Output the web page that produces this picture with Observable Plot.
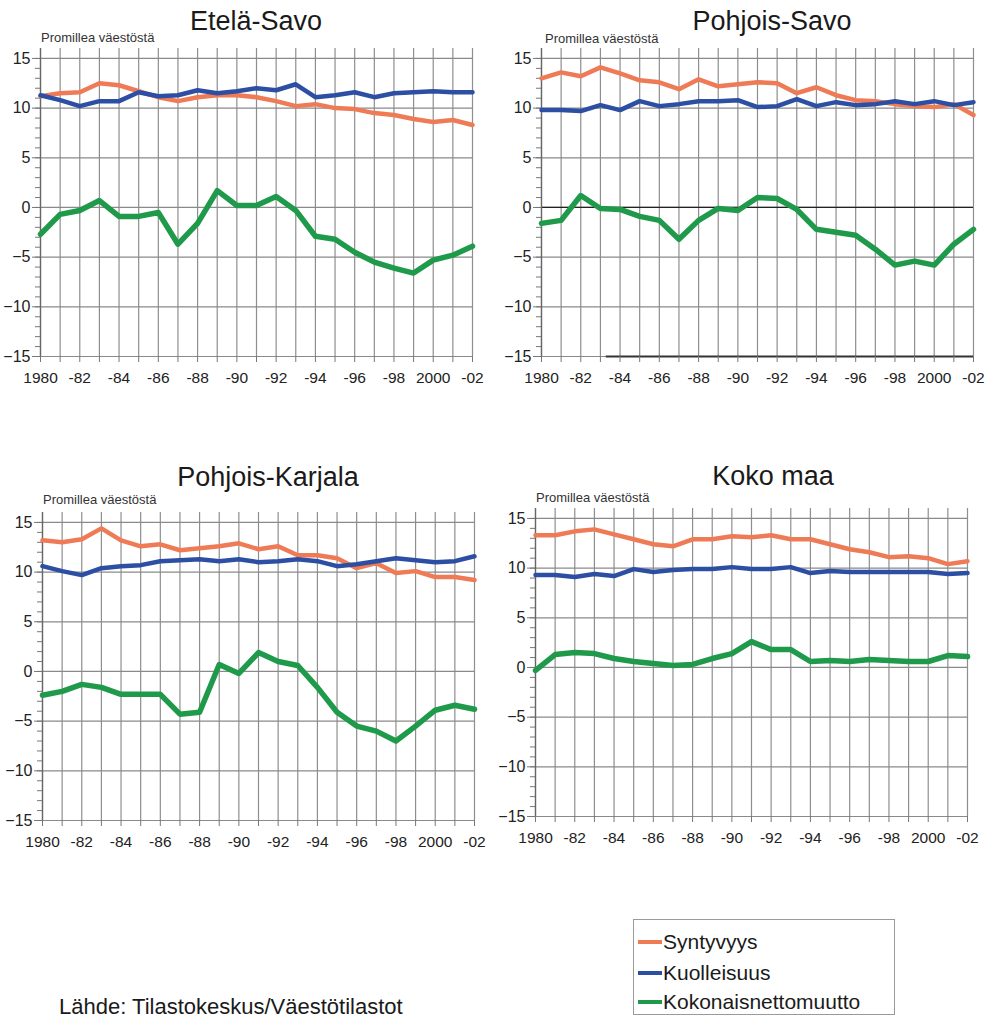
<!DOCTYPE html>
<html>
<head>
<meta charset="utf-8">
<script src="https://cdn.jsdelivr.net/npm/d3@7"></script>
<script src="https://cdn.jsdelivr.net/npm/@observablehq/plot@0.6"></script>
<style>
  html, body { margin: 0; padding: 0; background: #fff; }
  #wrap { position: relative; width: 995px; height: 1018px; overflow: hidden; font-family: "Liberation Sans", Arial, sans-serif; color: #1a1a1a; }
  .abs { position: absolute; white-space: nowrap; line-height: 1; }
  .title { transform: translateX(-50%); }
  .sub { color: #333; }
  .panel { position: absolute; }
  #legend { position: absolute; left: 633px; top: 919px; width: 262px; height: 96px; border: 1px solid #9a9a9a; box-sizing: border-box; }
  .lg { position: absolute; left: 4px; font-size: 21px; display: flex; align-items: center; }
  .sw { display: inline-block; width: 24px; height: 4px; margin-right: 1px; }
</style>
</head>
<body>
<div id="wrap"></div>
<script>
// ---- data ----
const years = [1980,1981,1982,1983,1984,1985,1986,1987,1988,1989,1990,1991,1992,1993,1994,1995,1996,1997,1998,1999,2000,2001,2002];
const xTickYears  = [1980,1982,1984,1986,1988,1990,1992,1994,1996,1998,2000,2002];
const xTickLabels = ["1980","-82","-84","-86","-88","-90","-92","-94","-96","-98","2000","-02"];
const yTicks = [-15,-10,-5,0,5,10,15];
const seriesNames = ["Syntyvyys","Kuolleisuus","Kokonaisnettomuutto"];
const seriesColors = ["#ef7b56","#2c4fa3","#1f9a4b"];
const panelTitles = ["Etelä-Savo","Pohjois-Savo","Pohjois-Karjala","Koko maa"];
const yLabel = "Promillea väestöstä";
const sourceText = "Lähde: Tilastokeskus/Väestötilastot";

const etelaSavoSyntyvyys   = [11.2,11.5,11.6,12.5,12.3,11.7,11.1,10.7,11.1,11.3,11.3,11.1,10.7,10.2,10.4,10.0,9.9,9.5,9.3,8.9,8.6,8.8,8.3];
const etelaSavoKuolleisuus = [11.3,10.8,10.2,10.7,10.7,11.6,11.2,11.3,11.8,11.5,11.7,12.0,11.8,12.4,11.1,11.3,11.6,11.1,11.5,11.6,11.7,11.6,11.6];
const etelaSavoNettomuutto = [-2.7,-0.7,-0.3,0.7,-0.9,-0.9,-0.5,-3.7,-1.6,1.7,0.2,0.2,1.1,-0.3,-2.9,-3.2,-4.5,-5.5,-6.1,-6.6,-5.3,-4.8,-3.9];

const pohjoisSavoSyntyvyys   = [13.0,13.6,13.2,14.1,13.5,12.8,12.6,11.9,12.9,12.2,12.4,12.6,12.5,11.5,12.1,11.3,10.8,10.7,10.4,10.2,10.1,10.4,9.3];
const pohjoisSavoKuolleisuus = [9.8,9.8,9.7,10.3,9.8,10.7,10.2,10.4,10.7,10.7,10.8,10.1,10.2,10.9,10.2,10.6,10.3,10.4,10.7,10.4,10.7,10.3,10.6];
const pohjoisSavoNettomuutto = [-1.6,-1.3,1.2,-0.1,-0.2,-0.9,-1.3,-3.2,-1.3,-0.1,-0.3,1.0,0.9,-0.2,-2.2,-2.5,-2.8,-4.2,-5.8,-5.4,-5.8,-3.7,-2.2];

const pohjoisKarjalaSyntyvyys   = [13.2,13.0,13.3,14.4,13.2,12.6,12.8,12.2,12.4,12.6,12.9,12.3,12.6,11.7,11.7,11.4,10.4,10.9,9.9,10.1,9.5,9.5,9.2];
const pohjoisKarjalaKuolleisuus = [10.6,10.1,9.7,10.4,10.6,10.7,11.1,11.2,11.3,11.1,11.3,11.0,11.1,11.3,11.1,10.6,10.8,11.1,11.4,11.2,11.0,11.1,11.6];
const pohjoisKarjalaNettomuutto = [-2.4,-2.0,-1.3,-1.6,-2.3,-2.3,-2.3,-4.3,-4.1,0.7,-0.2,1.9,1.0,0.6,-1.6,-4.1,-5.5,-6.0,-7.0,-5.5,-3.9,-3.4,-3.8];

const kokoMaaSyntyvyys   = [13.3,13.3,13.7,13.9,13.4,12.9,12.4,12.2,12.9,12.9,13.2,13.1,13.3,12.9,12.9,12.4,11.9,11.6,11.1,11.2,11.0,10.4,10.7];
const kokoMaaKuolleisuus = [9.3,9.3,9.1,9.4,9.2,9.9,9.6,9.8,9.9,9.9,10.1,9.9,9.9,10.1,9.5,9.7,9.6,9.6,9.6,9.6,9.6,9.4,9.5];
const kokoMaaNettomuutto = [-0.3,1.3,1.5,1.4,0.9,0.6,0.4,0.2,0.3,0.9,1.4,2.6,1.8,1.8,0.6,0.7,0.6,0.8,0.7,0.6,0.6,1.2,1.1];

// ---- layout ----
const wrap = document.getElementById("wrap");
const ML = 40, MR = 20, MT = 10, MB = 35;
const plotW = 432, unitPx = 9.95;
const plotH = Math.round(31 * unitPx);

const panels = [
  {title: panelTitles[0], s: [etelaSavoSyntyvyys, etelaSavoKuolleisuus, etelaSavoNettomuutto],
   left: 40, top: 48, tx: 256, tb: 31, sx: 41, sb: 42, black: false},
  {title: panelTitles[1], s: [pohjoisSavoSyntyvyys, pohjoisSavoKuolleisuus, pohjoisSavoNettomuutto],
   left: 541, top: 48, tx: 772, tb: 31, sx: 545, sb: 43, black: true},
  {title: panelTitles[2], s: [pohjoisKarjalaSyntyvyys, pohjoisKarjalaKuolleisuus, pohjoisKarjalaNettomuutto],
   left: 42, top: 512, tx: 268, tb: 487, sx: 43, sb: 504, black: false},
  {title: panelTitles[3], s: [kokoMaaSyntyvyys, kokoMaaKuolleisuus, kokoMaaNettomuutto],
   left: 535, top: 508, tx: 773, tb: 486, sx: 536, sb: 502, black: false}
];

function addText(cls, text, x, baseline, size) {
  const d = document.createElement("div");
  d.className = "abs " + cls;
  d.textContent = text;
  d.style.left = x + "px";
  d.style.fontSize = size + "px";
  d.style.top = (baseline - size * 0.86) + "px";
  wrap.appendChild(d);
  return d;
}

for (const p of panels) {
  const rows = [];
  p.s.forEach((arr, si) => arr.forEach((v, i) => rows.push({year: years[i], value: v, series: seriesNames[si]})));
  const marks = [
    Plot.ruleX(years, {y1: -15, y2: 16, stroke: "#8e8e8e", strokeWidth: 1.2}),
    Plot.ruleY(yTicks, {x1: 1980, x2: 2002, stroke: "#8a8a8a", strokeWidth: 1.2}),
  ];
  if (p.black) {
    marks.push(Plot.ruleY([0], {x1: 1980, x2: 2002, stroke: "#222", strokeWidth: 1.3}));
    marks.push(Plot.ruleY([-15], {x1: 1983.3, x2: 2002, stroke: "#333", strokeWidth: 2}));
  }
  marks.push(
    Plot.ruleX([1980], {y1: -15, y2: 16, stroke: "#666", strokeWidth: 1.3}),
    Plot.axisY(d3.range(-15, 16), {tickSize: 5, text: null, label: null, stroke: "#777"}),
    Plot.axisY(yTicks, {tickSize: 8, tickPadding: 2, fontSize: 16, label: null, fill: "#222", stroke: "#777"}),
    Plot.axisX(years, {tickSize: 6, text: null, label: null, stroke: "#777"}),
    Plot.axisX(xTickYears, {tickSize: 0, tickPadding: 15, fontSize: 15.5, label: null,
      tickFormat: d => xTickLabels[xTickYears.indexOf(d)], fill: "#222"}),
    Plot.line(rows.filter(d => d.series === seriesNames[0]), {x: "year", y: "value", stroke: seriesColors[0], strokeWidth: 4.5, strokeLinejoin: "round"}),
    Plot.line(rows.filter(d => d.series === seriesNames[1]), {x: "year", y: "value", stroke: seriesColors[1], strokeWidth: 4.5, strokeLinejoin: "round"}),
    Plot.line(rows.filter(d => d.series === seriesNames[2]), {x: "year", y: "value", stroke: seriesColors[2], strokeWidth: 5.5, strokeLinejoin: "round"})
  );
  const chart = Plot.plot({
    width: ML + plotW + MR,
    height: MT + plotH + MB,
    marginLeft: ML, marginRight: MR, marginTop: MT, marginBottom: MB,
    x: {domain: [1980, 2002], axis: null},
    y: {domain: [-15, 16], axis: null},
    style: {fontFamily: "'Liberation Sans', Arial, sans-serif", background: "transparent", overflow: "visible"},
    marks
  });
  const holder = document.createElement("div");
  holder.className = "panel";
  holder.style.left = (p.left - ML) + "px";
  holder.style.top = (p.top - MT) + "px";
  holder.appendChild(chart);
  wrap.appendChild(holder);
  addText("title", p.title, p.tx, p.tb, 27);
  addText("sub", yLabel, p.sx, p.sb, 13);
}

// legend
const lg = document.createElement("div");
lg.id = "legend";
const lgBaselines = [947, 978, 1007];
seriesNames.forEach((n, i) => {
  const row = document.createElement("div");
  row.className = "lg";
  row.style.top = (lgBaselines[i] - 919 - 18) + "px";
  const sw = document.createElement("span");
  sw.className = "sw";
  sw.style.background = seriesColors[i];
  row.appendChild(sw);
  row.appendChild(document.createTextNode(n));
  lg.appendChild(row);
});
wrap.appendChild(lg);

addText("", sourceText, 59, 1015, 22);
</script>
</body>
</html>
